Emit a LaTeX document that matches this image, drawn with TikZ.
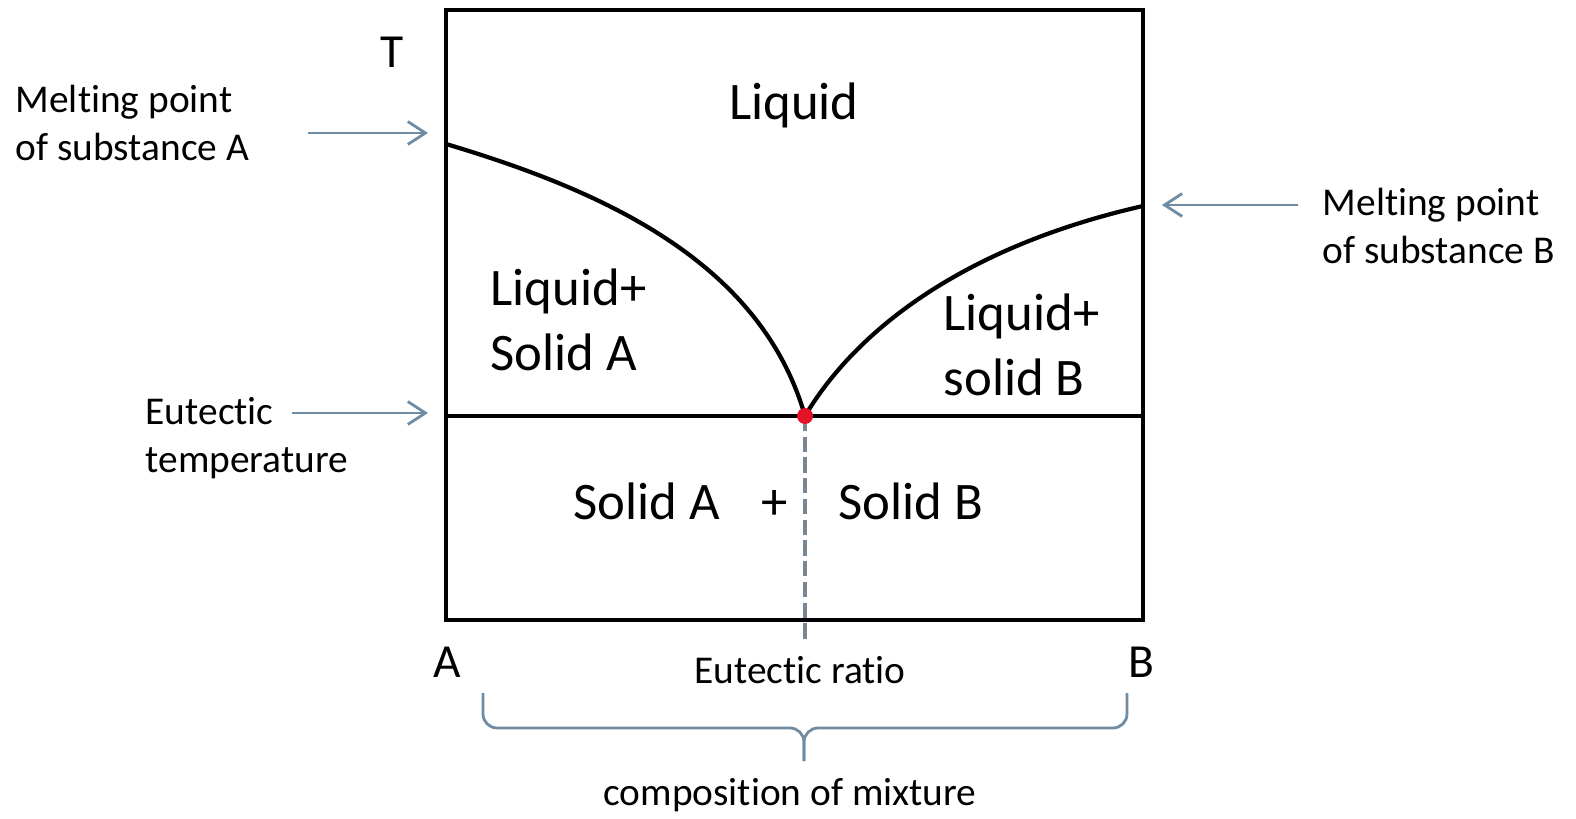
\documentclass[tikz,border=0pt]{standalone}
\usepackage{fontspec}
\setmainfont{Carlito}[Ligatures={NoCommon,NoContextual,NoRequired,NoRare}]
\usetikzlibrary{arrows.meta}
\definecolor{pointercol}{RGB}{112,140,162}
\definecolor{dashcol}{RGB}{120,135,150}
\definecolor{eutred}{RGB}{228,18,40}

\begin{document}
\begin{tikzpicture}[x=0.01cm, y=-0.01cm,
    region/.style={font=\fontsize{15}{18.5}\selectfont, align=left, inner sep=0pt},
    note/.style={font=\fontsize{11.2}{13.7}\selectfont, align=left, inner sep=0pt},
    axislabel/.style={font=\fontsize{13.5}{16}\selectfont, inner sep=0pt},
    pointer/.style={-{Straight Barb[length=5pt,width=6.5pt]}, pointercol, line width=0.8pt},
    curve/.style={line width=1.2pt},
    bracket/.style={pointercol, line width=0.8pt, rounded corners=4}
]
    \useasboundingbox (0,0) rectangle (1576,819);

    % diagram frame and phase lines
    \draw[curve] (446,10) rectangle (1143,620);
    \coordinate (mA) at (446,144);
    \coordinate (mB) at (1143,206);
    \coordinate (eut) at (805,416);
    \draw[curve] (446,416) -- (1143,416);
    \draw[curve] (mA) .. controls (600,190) and (760,260) .. (eut);
    \draw[curve] (eut) .. controls (850,340) and (950,250) .. (mB);
    \draw[dashcol, line width=0.9pt, dash pattern=on 4.3pt off 1.6pt] (eut) -- (805,640);
    \fill[eutred] (eut) circle (8);

    % regions
    \node[region, anchor=base] (liq) at (794,120) {Liquid};
    \node[region, anchor=north west] (liqA) at (490,268) {Liquid+\\Solid A};
    \node[region, anchor=north west] (liqB) at (943,293) {Liquid+\\solid B};
    \node[region, anchor=base west] (solA) at (573,520) {Solid A};
    \node[region, anchor=base] (plus) at (775,520) {+};
    \node[region, anchor=base west] (solB) at (838,520) {Solid B};

    % axes
    \node[axislabel, anchor=base] (T) at (392,68) {T};
    \node[axislabel, anchor=base] (A) at (447,678) {A};
    \node[axislabel, anchor=base] (B) at (1141,678) {B};
    \node[note, anchor=base] (ratio) at (800,683) {Eutectic ratio};
    \node[note, anchor=base] (comp) at (790,805) {composition of mixture};

    % side notes with pointers
    \node[note, anchor=north west] (noteA) at (15,84) {Melt\kern0pt ing point\\of substance A};
    \node[note, anchor=north west] (noteE) at (145,397) {Eutectic\\temperature};
    \node[note, anchor=north west] (noteB) at (1322,187) {Melt\kern0pt ing point\\of substance B};

    \coordinate (pA) at (308,133);
    \coordinate (pAtip) at (428,133);
    \coordinate (pE) at (292,413);
    \coordinate (pEtip) at (428,413);
    \coordinate (pB) at (1298,205);
    \coordinate (pBtip) at (1162,205);
    \draw[pointer] (pA) -- (pAtip);
    \draw[pointer] (pE) -- (pEtip);
    \draw[pointer] (pB) -- (pBtip);

    % brace under the axis
    \coordinate (brL) at (483,693);
    \coordinate (brR) at (1127,693);
    \coordinate (brTip) at (804,761);
    \draw[bracket] (brL) -- (483,728) -- (804,728) -- (brTip);
    \draw[bracket] (brR) -- (1127,728) -- (804,728) -- (brTip);
\end{tikzpicture}
\end{document}
